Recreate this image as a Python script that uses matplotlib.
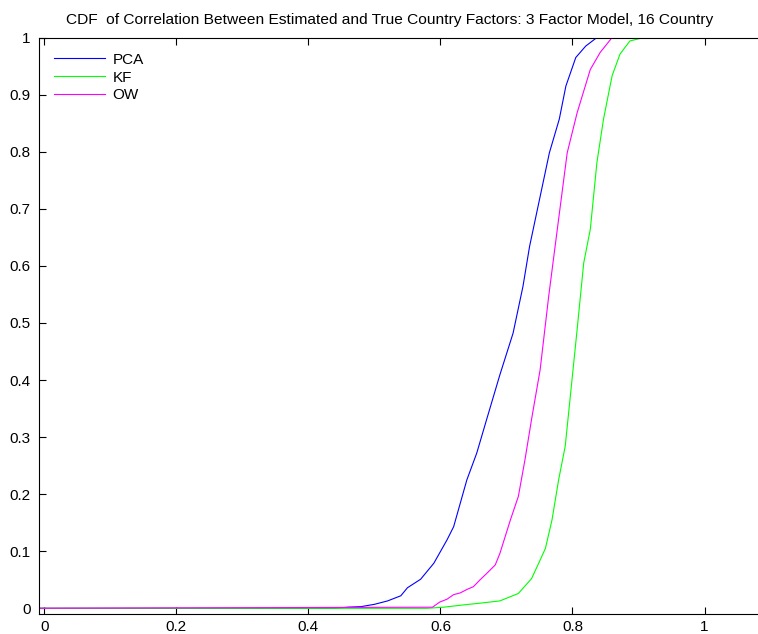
import matplotlib
matplotlib.use("Agg")
import matplotlib.pyplot as plt

plt.rcParams['font.family'] = ['Liberation Sans', 'DejaVu Sans']

# CDF points for each estimator (correlation, cumulative share)
pca_x = [-0.05, 0.44, 0.46, 0.48, 0.50, 0.52, 0.54, 0.55, 0.57, 0.59, 0.61, 0.62,
         0.64, 0.655, 0.67, 0.69, 0.71, 0.725, 0.735, 0.75, 0.765, 0.78, 0.79,
         0.805, 0.82, 0.837, 1.1]
pca_y = [0.0, 0.0, 0.002, 0.003, 0.007, 0.013, 0.022, 0.036, 0.051, 0.079, 0.12, 0.143,
         0.225, 0.272, 0.331, 0.409, 0.482, 0.564, 0.634, 0.716, 0.798, 0.857, 0.915,
         0.965, 0.985, 1.0, 1.0]

kf_x = [-0.05, 0.58, 0.605, 0.635, 0.66, 0.69, 0.718, 0.738, 0.75, 0.759, 0.769,
        0.779, 0.789, 0.807, 0.817, 0.827, 0.837, 0.847, 0.86, 0.872, 0.887, 0.908, 1.1]
kf_y = [0.0, 0.0, 0.002, 0.006, 0.009, 0.013, 0.026, 0.052, 0.082, 0.105, 0.155,
        0.225, 0.284, 0.488, 0.605, 0.664, 0.781, 0.857, 0.933, 0.971, 0.994, 1.0, 1.0]

ow_x = [-0.05, 0.588, 0.599, 0.61, 0.62, 0.63, 0.64, 0.65, 0.66, 0.67, 0.683, 0.69,
        0.706, 0.718, 0.728, 0.738, 0.751, 0.764, 0.777, 0.792, 0.807, 0.827, 0.842,
        0.86, 1.1]
ow_y = [0.0, 0.002, 0.011, 0.016, 0.024, 0.027, 0.033, 0.038, 0.050, 0.061, 0.076,
        0.096, 0.155, 0.196, 0.26, 0.331, 0.418, 0.547, 0.664, 0.798, 0.868, 0.944,
        0.974, 1.0, 1.0]

fig = plt.figure(figsize=(7.58, 6.34), dpi=100)
ax = fig.add_axes([0.0515, 0.0315, 0.9485, 0.9093])

ax.plot(pca_x, pca_y, color=(0, 0, 1), lw=0.8, label='PCA')
ax.plot(kf_x, kf_y, color=(0, 1, 0), lw=0.8, label='KF')
ax.plot(ow_x, ow_y, color=(1, 0, 1), lw=0.8, label='OW')

ax.set_xlim(-0.008, 1.081)
ax.set_ylim(-0.01, 1.0)
ax.set_xticks([0, 0.2, 0.4, 0.6, 0.8, 1])
ax.set_xticklabels(['0', '0.2', '0.4', '0.6', '0.8', '1'])
ax.set_yticks([0, 0.1, 0.2, 0.3, 0.4, 0.5, 0.6, 0.7, 0.8, 0.9, 1])
ax.set_yticklabels(['0', '0.1', '0.2', '0.3', '0.4', '0.5', '0.6', '0.7', '0.8', '0.9', '1'])
ax.tick_params(direction='in', length=5, width=0.8, labelsize=11, top=True)
ax.tick_params(axis='x', pad=4)
ax.tick_params(axis='y', pad=6)
ax.spines['right'].set_visible(False)
for s in ('left', 'bottom', 'top'):
    ax.spines[s].set_linewidth(0.8)

ax.set_title('CDF  of Correlation Between Estimated and True Country Factors: 3 Factor Model, 16 Country',
             fontsize=11.15, pad=10, x=0.488)
ax.legend(loc='upper left', frameon=False, fontsize=11, handlelength=3.3,
          handletextpad=0.5, labelspacing=0.25, borderaxespad=0.6)

fig.savefig('out.png', dpi=100)
